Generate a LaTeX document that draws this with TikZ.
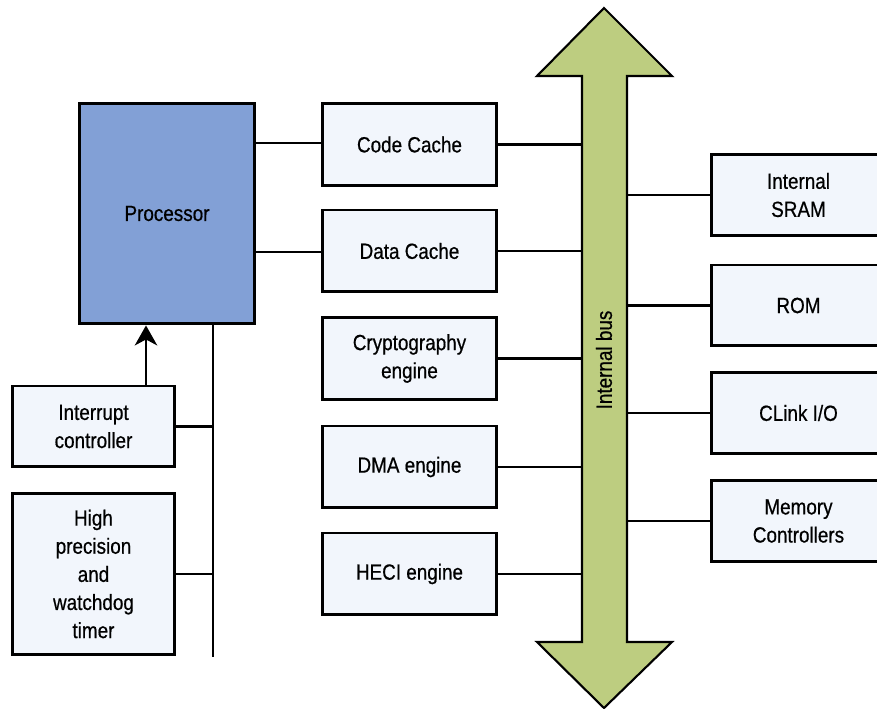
\documentclass[tikz,border=0pt]{standalone}
\usepackage{fontspec}
\setmainfont[FakeStretch=0.86,FakeBold=0.6]{Liberation Sans}
\usetikzlibrary{arrows.meta}
\definecolor{procblue}{HTML}{82A0D6}
\definecolor{boxfill}{HTML}{F2F6FC}
\definecolor{busgreen}{HTML}{BDCD80}
\begin{document}
\begin{tikzpicture}[x=0.02cm,y=-0.02cm,
    unit/.style={draw,line width=1.7pt,fill=boxfill,inner sep=0pt,align=center,
      font=\fontsize{12.5}{16}\selectfont,minimum width=3.5cm,minimum height=1.64cm},
    side/.style={unit,minimum height=1.62cm},
    link/.style={line width=1.3pt}]
    \useasboundingbox (0,0) rectangle (877,709);

    % internal bus
    \coordinate (busL) at (582,0);
    \coordinate (busR) at (627,0);
    \draw[line width=1.2pt,fill=busgreen,line join=miter]
        (604,8) -- (672,76) -- (627,76) -- (627,642) -- (672,642) -- (604,708)
        -- (537,642) -- (582,642) -- (582,76) -- (537,76) -- cycle;
    \node[rotate=90,font=\fontsize{12.5}{16}\selectfont] (bus) at (604,360) {Internal bus};

    % processor side
    \node[unit,fill=procblue,minimum width=3.52cm,minimum height=4.42cm] (proc) at (167,213.5) {Processor};
    \node[unit,minimum width=3.26cm,minimum height=1.62cm] (irq) at (93.5,426.5) {Interrupt\\controller};
    \node[unit,minimum width=3.26cm,minimum height=3.24cm] (timer) at (93.5,574) {High\\precision\\and\\watchdog\\timer};
    \coordinate (tail) at (213,657);

    % middle column
    \node[unit] (code) at (409.5,144.5) {Code Cache};
    \node[unit] (data) at (409.5,251) {Data Cache};
    \node[unit] (crypto) at (409.5,358.5) {Cryptography\\engine};
    \node[unit] (dma) at (409.5,467) {DMA engine};
    \node[unit] (heci) at (409.5,574) {HECI engine};

    % right column
    \node[side] (sram) at (798.5,195) {Internal\\SRAM};
    \node[side] (rom) at (798.5,305.5) {ROM};
    \node[side] (clink) at (798.5,413) {CLink I/O};
    \node[side] (memctl) at (798.5,521) {Memory\\Controllers};

    \begin{scope}[link]
        \draw (proc.east |- 0,143) -- (code.west |- 0,143);
        \draw (proc.east |- 0,252) -- (data.west |- 0,252);
        \draw (proc.south -| tail) -- (tail);
        \draw (irq.east) -- (irq.east -| tail);
        \draw (timer.east) -- (timer.east -| tail);
        \draw[-{Stealth[length=0.4cm,width=0.45cm,inset=0.12cm]}] (irq.north -| 146,0) -- (proc.south -| 146,0);
        \foreach \n in {code,data,crypto,dma,heci}
            \draw (\n.east) -- (\n.east -| busL);
        \foreach \n in {sram,rom,clink,memctl}
            \draw (\n.west) -- (\n.west -| busR);
    \end{scope}
\end{tikzpicture}
\end{document}
